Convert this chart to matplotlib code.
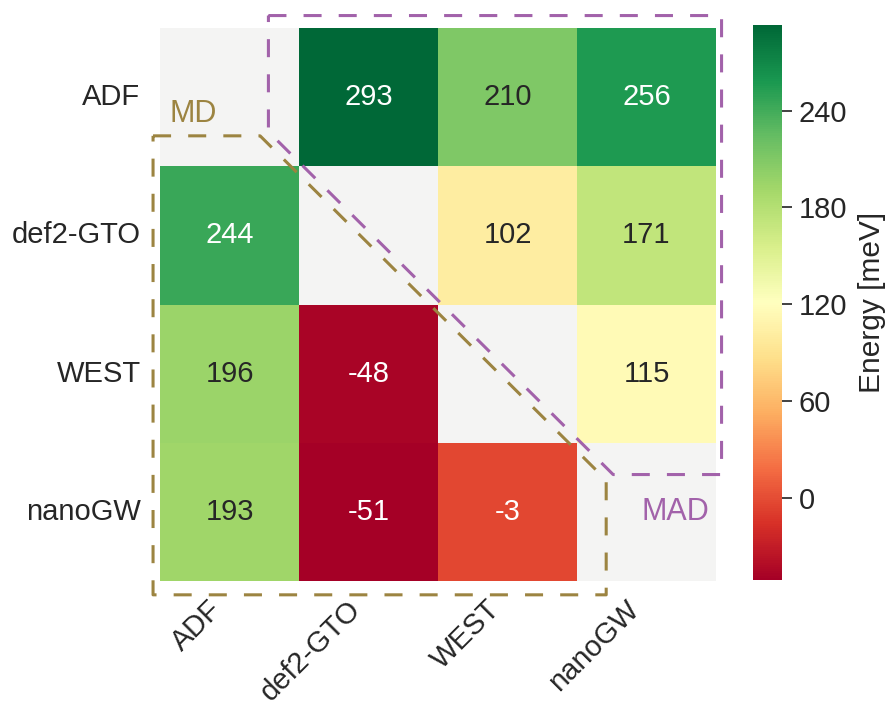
import numpy as np
import matplotlib
matplotlib.use("Agg")
import matplotlib.pyplot as plt
import matplotlib.transforms as mtrans
import seaborn as sns

# codes compared against each other
codes = ["ADF", "def2-GTO", "WEST", "nanoGW"]

# upper triangle: MAD, lower triangle: MD (meV)
row_adf = [np.nan, 293, 210, 256]
row_def2 = [244, np.nan, 102, 171]
row_west = [196, -48, np.nan, 115]
row_nanogw = [193, -51, -3, np.nan]

cbar_ticks = [0, 60, 120, 180, 240]

sns.set_style("white")
plt.rcParams['font.family'] = ['Liberation Sans', 'DejaVu Sans']

data = np.array([row_adf, row_def2, row_west, row_nanogw], dtype=float)
mask = np.eye(len(codes), dtype=bool)

fig = plt.figure(figsize=(8.91, 7.04), dpi=100)
ax = fig.add_axes([160 / 891, 123 / 704, 556 / 891, 553 / 704])
cax = fig.add_axes([753 / 891, 124 / 704, 29 / 891, 555 / 704])
ax.set_facecolor('#f4f4f3')

sns.heatmap(data, mask=mask, cmap='RdYlGn', annot=True, fmt='.0f',
            annot_kws={'fontsize': 21}, ax=ax, cbar_ax=cax,
            xticklabels=codes, yticklabels=codes)

ax.tick_params(axis='both', length=0, labelsize=21)
ax.tick_params(axis='y', pad=14)
ax.set_yticklabels(codes, rotation=0)
ax.set_xticklabels(codes, rotation=45, ha='right')
for lab in ax.get_xticklabels():
    lab.set_transform(lab.get_transform() + mtrans.ScaledTranslation(-2 / 100, -9 / 100, fig.dpi_scale_trans))

cax.set_yticks(cbar_ticks)
cax.tick_params(axis='y', right=True, length=7, width=1.3, labelsize=21, pad=5, color='#333333')
cax.set_ylabel('Energy [meV]', fontsize=21.5, labelpad=8)

# dashed outlines for the two triangles
olive = '#9c8441'
purple = '#a262aa'
md_x = [-0.05, 0.72, 3.21, 3.21, -0.05, -0.05]
md_y = [0.78, 0.78, 3.27, 4.10, 4.10, 0.78]
mad_x = [0.78, 4.04, 4.04, 3.26, 0.78, 0.78]
mad_y = [-0.09, -0.09, 3.23, 3.23, 0.75, -0.09]
ax.plot(md_x, md_y, color=olive, lw=2.2, ls=(0, (5.9, 5.6)), clip_on=False)
ax.plot(mad_x, mad_y, color=purple, lw=2.2, ls=(0, (5.9, 5.6)), clip_on=False)
ax.text(0.07, 0.62, 'MD', color=olive, fontsize=22, va='center', ha='left')
ax.text(3.95, 3.5, 'MAD', color=purple, fontsize=22, va='center', ha='right')

fig.savefig('out.png', dpi=100)
